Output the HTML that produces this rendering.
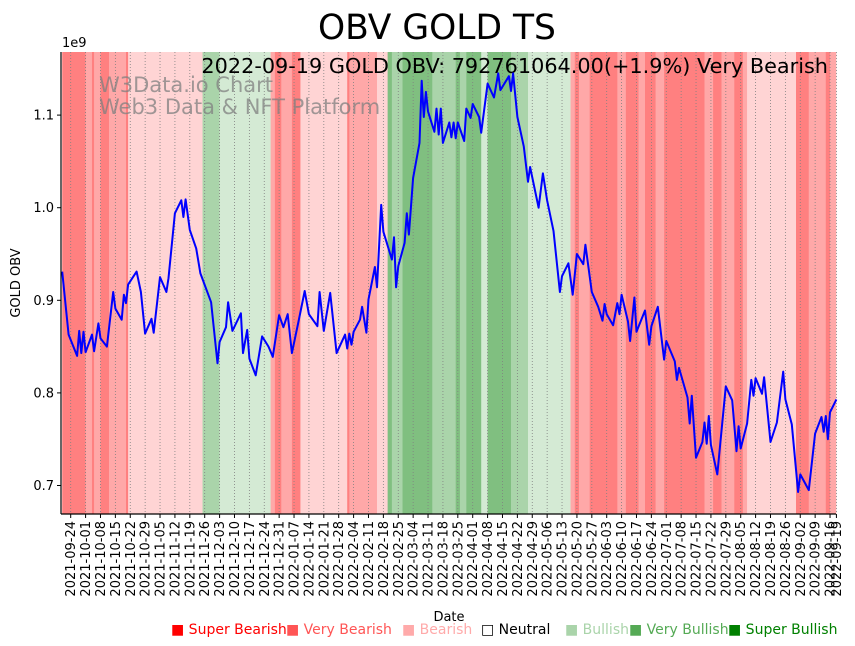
<!DOCTYPE html>
<html><head><meta charset="utf-8">
<style>
html,body{margin:0;padding:0;background:#fff;}
svg{display:block;font-family:"DejaVu Sans","Liberation Sans",sans-serif;}
</style></head>
<body>
<svg id="chart" width="855" height="646" viewBox="0 0 855 646" xmlns="http://www.w3.org/2000/svg">
  <g id="bands"></g>
  <g id="grid"></g>
  <text x="437" y="39" font-size="34.5" text-anchor="middle" fill="#000">OBV GOLD TS</text>
  <text x="99" y="92" font-size="21" fill="#808080" fill-opacity="0.75">W3Data.io Chart</text>
  <text x="99" y="114" font-size="21" fill="#808080" fill-opacity="0.75">Web3 Data &amp; NFT Platform</text>
  <text x="828" y="73" font-size="20.8" text-anchor="end" fill="#000">2022-09-19 GOLD OBV: 792761064.00(+1.9%) Very Bearish</text>
  <path id="line" fill="none" stroke="#0000ff" stroke-width="2" stroke-linejoin="round"></path>
  <g id="yaxis"></g>
  <g id="xaxis"></g>
  <text x="62" y="47" font-size="13">1e9</text>
  <text transform="translate(20,283) rotate(-90)" font-size="13" text-anchor="middle">GOLD OBV</text>
  <text x="449" y="621" font-size="13" text-anchor="middle">Date</text>
  <g id="legend" font-size="14"></g>
</svg>
<script>
// ---- data ----
const startDate = "2021-09-24";
const endDate = "2022-09-19";
const dayOffsets = [-4,-1,3,4,5,6,7,10,11,13,14,17,20,21,24,25,26,27,31,33,35,38,39,42,45,46,49,52,53,54,56,59,61,66,69,70,73,74,76,80,81,83,84,87,90,93,95,98,100,102,104,107,110,112,116,117,119,122,125,129,130,131,132,133,136,137,139,140,143,144,146,147,151,152,153,154,157,158,159,161,164,165,166,167,168,171,172,173,174,175,178,179,180,181,182,185,186,188,189,192,193,196,199,201,202,206,207,208,210,213,215,216,220,222,224,227,230,231,234,236,238,241,242,245,248,250,251,252,255,257,258,259,262,263,265,266,270,272,273,276,279,280,284,285,286,290,291,292,294,297,298,299,300,301,304,308,311,313,314,315,318,320,321,322,325,326,329,332,335,336,339,342,343,347,350,353,354,355,356,357,360];
const obvValues = [0.931,0.863,0.840,0.867,0.843,0.866,0.844,0.863,0.845,0.875,0.859,0.850,0.909,0.891,0.879,0.906,0.897,0.917,0.931,0.909,0.864,0.880,0.865,0.925,0.909,0.924,0.994,1.008,0.990,1.009,0.976,0.956,0.929,0.898,0.832,0.855,0.871,0.898,0.867,0.886,0.843,0.868,0.837,0.819,0.861,0.850,0.839,0.884,0.871,0.885,0.843,0.876,0.910,0.885,0.872,0.909,0.867,0.908,0.843,0.863,0.848,0.864,0.852,0.866,0.879,0.893,0.865,0.901,0.936,0.914,1.003,0.974,0.944,0.968,0.914,0.937,0.962,0.994,0.971,1.032,1.070,1.137,1.098,1.125,1.104,1.082,1.107,1.079,1.107,1.070,1.092,1.076,1.092,1.075,1.092,1.072,1.107,1.097,1.112,1.098,1.081,1.134,1.119,1.145,1.127,1.142,1.126,1.145,1.098,1.066,1.028,1.044,1.000,1.037,1.008,0.975,0.909,0.926,0.940,0.906,0.950,0.939,0.960,0.909,0.893,0.878,0.896,0.885,0.873,0.897,0.885,0.906,0.877,0.856,0.903,0.866,0.889,0.852,0.872,0.893,0.836,0.856,0.834,0.814,0.827,0.795,0.767,0.797,0.730,0.747,0.768,0.745,0.775,0.744,0.712,0.807,0.792,0.737,0.764,0.740,0.767,0.814,0.797,0.816,0.799,0.817,0.747,0.768,0.823,0.793,0.766,0.693,0.712,0.695,0.756,0.774,0.758,0.775,0.750,0.779,0.793];
const bandStarts = ["2021-09-20","2021-10-01","2021-10-04","2021-10-05","2021-10-08","2021-10-12","2021-10-20","2021-10-21","2021-11-25","2021-12-03","2021-12-27","2021-12-29","2022-01-01","2022-01-06","2022-01-10","2022-02-01","2022-02-02","2022-02-15","2022-02-20","2022-02-22","2022-02-27","2022-03-13","2022-03-24","2022-03-26","2022-03-29","2022-04-05","2022-04-08","2022-04-19","2022-04-27","2022-05-17","2022-05-19","2022-05-21","2022-05-26","2022-06-08","2022-06-12","2022-06-18","2022-06-21","2022-06-26","2022-06-30","2022-07-19","2022-07-23","2022-07-27","2022-08-02","2022-08-06","2022-08-08","2022-08-31","2022-09-06","2022-09-14","2022-09-16","2022-09-20"];
const bandCats = ["SB","VB","SB","VB","SB","VB","SB","B","VBu","Bu","VB","SB","VB","SB","B","SB","VB","B","SBu","VBu","SBu","VBu","SBu","VBu","SBu","Bu","SBu","VBu","Bu","VB","SB","VB","SB","VB","SB","VB","SB","VB","SB","VB","SB","VB","SB","VB","B","SB","VB","SB","VB"];
const yTicks = [0.7,0.8,0.9,1.0,1.1];
const yTickLabels = ["0.7","0.8","0.9","1.0","1.1"];
const legendLabels = ["Super Bearish","Very Bearish","Bearish","Neutral","Bullish","Very Bullish","Super Bullish"];
const legendColors = ["#ff0000","#ff5555","#ffaaaa","#000000","#aad4aa","#55aa55","#008000"];

// ---- scales ----
const NS = "http://www.w3.org/2000/svg";
const DAY = 86400000;
const t0 = Date.parse(startDate + "T00:00:00Z");
const PX_PER_DAY = 2.127, X0 = 70.7;
function dOff(s){ return (Date.parse(s + "T00:00:00Z") - t0) / DAY; }
function xDay(d){ return X0 + d * PX_PER_DAY; }
function yVal(v){ return 207.7 - (v - 1.0) * 926; }
const PL = 61, PR = 836, PT = 52, PB = 514;
const bandColor = {SB:"#ff8080",VB:"#ffa8a8",B:"#ffd4d4",N:"#ffffff",Bu:"#d4ead4",VBu:"#aad4aa",SBu:"#80bf80"};

// bands
const gB = document.getElementById("bands");
for (let i = 0; i < bandCats.length; i++) {
  const x1 = Math.max(PL, xDay(dOff(bandStarts[i])));
  const x2 = Math.min(PR, xDay(dOff(bandStarts[i+1])));
  const r = document.createElementNS(NS, "rect");
  r.setAttribute("x", x1); r.setAttribute("y", PT);
  r.setAttribute("width", Math.max(0, x2 - x1 + 0.3)); r.setAttribute("height", PB - PT);
  r.setAttribute("fill", bandColor[bandCats[i]]);
  
  
  gB.appendChild(r);
}

// x ticks
const gG = document.getElementById("grid");
const gX = document.getElementById("xaxis");
const tickDates = [];
const endOff = dOff(endDate);
for (let d = 0; d <= endOff - 3; d += 7) tickDates.push(d);
tickDates.push(endOff);
function fmt(d){ return new Date(t0 + d * DAY).toISOString().slice(0,10); }
tickDates.forEach(d => {
  const x = xDay(d);
  const gl = document.createElementNS(NS, "line");
  gl.setAttribute("x1", x); gl.setAttribute("x2", x); gl.setAttribute("y1", PT); gl.setAttribute("y2", PB);
  gl.setAttribute("stroke", "#808080"); gl.setAttribute("stroke-width", "0.8"); gl.setAttribute("stroke-dasharray", "1,2");
  
  
  gG.appendChild(gl);
  const tk = document.createElementNS(NS, "line");
  tk.setAttribute("x1", x); tk.setAttribute("x2", x); tk.setAttribute("y1", PB); tk.setAttribute("y2", PB + 4);
  tk.setAttribute("stroke", "#000"); tk.setAttribute("stroke-width", "1");
  
  
  gX.appendChild(tk);
  const tx = document.createElementNS(NS, "text");
  tx.setAttribute("transform", "translate(" + (x + 4.5) + "," + (PB + 7) + ") rotate(-90)");
  tx.setAttribute("font-size", "13"); tx.setAttribute("text-anchor", "end");
  tx.textContent = fmt(d);
  
  
  gX.appendChild(tx);
});
const bx = document.createElementNS(NS, "line");
bx.setAttribute("x1", PL); bx.setAttribute("x2", PR); bx.setAttribute("y1", PB); bx.setAttribute("y2", PB);
bx.setAttribute("stroke", "#000"); bx.setAttribute("stroke-width", "1.2");


gX.appendChild(bx);

// y axis
const gY = document.getElementById("yaxis");
const ly = document.createElementNS(NS, "line");
ly.setAttribute("x1", PL); ly.setAttribute("x2", PL); ly.setAttribute("y1", PT); ly.setAttribute("y2", PB);
ly.setAttribute("stroke", "#000"); ly.setAttribute("stroke-width", "1.2");


gY.appendChild(ly);
yTicks.forEach((v, i) => {
  const y = yVal(v);
  const tk = document.createElementNS(NS, "line");
  tk.setAttribute("x1", PL - 4); tk.setAttribute("x2", PL); tk.setAttribute("y1", y); tk.setAttribute("y2", y);
  tk.setAttribute("stroke", "#000");
  
  
  gY.appendChild(tk);
  const tx = document.createElementNS(NS, "text");
  tx.setAttribute("x", PL - 7); tx.setAttribute("y", y + 4.5);
  tx.setAttribute("font-size", "13"); tx.setAttribute("text-anchor", "end");
  tx.textContent = yTickLabels[i];
  
  
  gY.appendChild(tx);
});

// line
let dstr = "";
dayOffsets.forEach((d, i) => {
  dstr += (i ? "L" : "M") + xDay(d).toFixed(1) + "," + yVal(obvValues[i]).toFixed(1);
});
document.getElementById("line").setAttribute("d", dstr);

// legend
const gL = document.getElementById("legend");
const legendX = [171, 286, 402, 481, 565, 629, 728];
legendLabels.forEach((lab, i) => {
  const t = document.createElementNS(NS, "text");
  t.setAttribute("x", legendX[i]); t.setAttribute("y", 634);
  t.setAttribute("fill", legendColors[i]);
  t.textContent = (i === 3 ? "\u25A1 " : "\u25A0 ") + lab;
  
  
  gL.appendChild(t);
});
</script>
</body></html>
